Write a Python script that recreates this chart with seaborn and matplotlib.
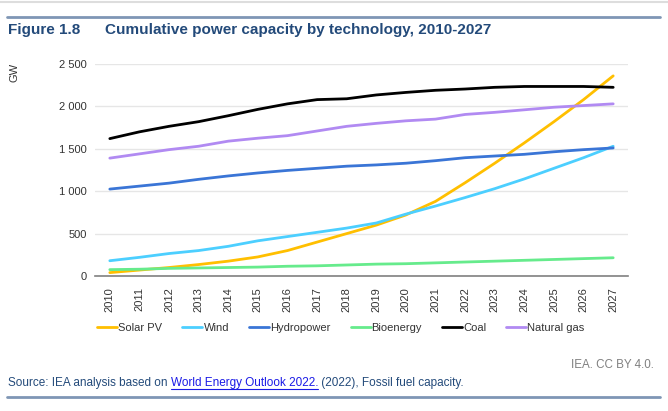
import matplotlib
matplotlib.use("Agg")
import matplotlib.pyplot as plt
import seaborn as sns
import pandas as pd
from matplotlib.lines import Line2D

years = list(range(2010, 2028))
solar = [40, 70, 100, 135, 175, 225, 300, 400, 500, 600, 720, 880, 1100, 1330, 1570, 1820, 2080, 2360]
wind = [180, 220, 265, 300, 350, 415, 465, 515, 565, 625, 730, 825, 925, 1030, 1145, 1270, 1395, 1530]
hydro = [1025, 1060, 1095, 1140, 1180, 1215, 1245, 1270, 1295, 1310, 1330, 1360, 1395, 1415, 1435, 1465, 1490, 1510]
bio = [75, 80, 90, 95, 100, 105, 115, 120, 130, 140, 145, 155, 165, 175, 185, 195, 205, 215]
coal = [1620, 1700, 1765, 1820, 1890, 1965, 2030, 2080, 2090, 2135, 2165, 2190, 2205, 2225, 2235, 2235, 2235, 2225]
gas = [1390, 1440, 1490, 1530, 1590, 1625, 1655, 1710, 1765, 1800, 1830, 1850, 1905, 1930, 1960, 1990, 2010, 2030]

series_names = ["Solar PV", "Wind", "Hydropower", "Bioenergy", "Coal", "Natural gas"]
series_vals = [solar, wind, hydro, bio, coal, gas]
colors = ["#FFBF00", "#4CCFFF", "#3A75D6", "#66EB8C", "#000000", "#B18AF2"]
yticks = [0, 500, 1000, 1500, 2000, 2500]
ytick_labels = ["0", "500", "1 000", "1 500", "2 000", "2 500"]

rows = []
for name, vals in zip(series_names, series_vals):
    for i, (yr, v) in enumerate(zip(years, vals)):
        rows.append({"pos": i, "year": yr, "tech": name, "GW": v})
df = pd.DataFrame(rows)

sns.set_theme(style="white")
plt.rcParams["font.family"] = ["Liberation Sans", "DejaVu Sans"]

fig = plt.figure(figsize=(6.68, 4.11), dpi=100)
ax = fig.add_axes([95 / 668, 1 - 276 / 411, (628 - 95) / 668, (276 - 64) / 411])

palette = dict(zip(series_names, colors))
sns.lineplot(data=df, x="pos", y="GW", hue="tech", hue_order=series_names,
             palette=palette, linewidth=2.0, ax=ax, legend=False)

ax.set_xlim(-0.5, 17.5)
ax.set_ylim(0, 2500)
ax.set_yticks(yticks)
ax.set_yticklabels(ytick_labels)
ax.set_xticks(range(len(years)))
ax.set_xticklabels([str(y) for y in years], rotation=90)
ax.tick_params(axis="both", labelsize=8, colors="#333333", length=0, pad=6)
ax.tick_params(axis="x", pad=8)
ax.yaxis.grid(True, color="#E6E6E6", linewidth=1)
ax.set_axisbelow(True)
for s in ["top", "right", "left"]:
    ax.spines[s].set_visible(False)
ax.spines["bottom"].set_color("#808080")
ax.spines["bottom"].set_linewidth(1.2)
ax.set_xlabel("")
ax.set_ylabel("")

fig.text(15 / 668, 1 - 72 / 411, "GW", rotation=90, fontsize=8, color="#333333",
         ha="center", va="center")

# legend
handles = [Line2D([0], [0], color=c, lw=2) for c in colors]
fig.legend(handles, series_names, loc="center", bbox_to_anchor=(341 / 668, 1 - 328 / 411),
           ncol=6, frameon=False, fontsize=8, handlelength=1.8, handletextpad=0.1,
           columnspacing=1.8, labelcolor="#333333")

# header lines and title
fig.add_artist(Line2D([0, 1], [1 - 2 / 411, 1 - 2 / 411], color="#DDDDDD", lw=1.5, transform=fig.transFigure))
fig.add_artist(Line2D([7 / 668, 660 / 668], [1 - 17 / 411, 1 - 17 / 411], color="#7F96B5", lw=2, transform=fig.transFigure))
fig.text(8 / 668, 1 - 30 / 411, "Figure 1.8", fontsize=11, fontweight="bold", color="#234A7A", va="center")
fig.text(105 / 668, 1 - 30 / 411, "Cumulative power capacity by technology, 2010-2027", fontsize=11,
         fontweight="bold", color="#234A7A", va="center")

fig.text(654 / 668, 1 - 365 / 411, "IEA. CC BY 4.0.", fontsize=8.4, color="#808080", ha="right", va="center")

# source line with link
fig.canvas.draw()
renderer = fig.canvas.get_renderer()
x = 8 / 668
yline = 1 - 383 / 411
parts = [("Source: IEA analysis based on ", "#234A7A", False),
         ("World Energy Outlook 2022.", "#1A1AE6", True),
         (" (2022), Fossil fuel capacity.", "#234A7A", False)]
for txt, col, und in parts:
    t = fig.text(x, yline, txt, fontsize=8.5, color=col, va="center", ha="left")
    bb = t.get_window_extent(renderer=renderer)
    w = bb.width / fig.bbox.width
    if und:
        yb = bb.y0 / fig.bbox.height
        fig.add_artist(Line2D([x, x + w], [yb, yb], color=col, lw=0.8, transform=fig.transFigure))
    x += w

fig.add_artist(Line2D([7 / 668, 660 / 668], [1 - 397 / 411, 1 - 397 / 411], color="#7F96B5", lw=2, transform=fig.transFigure))

fig.savefig("out.png", dpi=100)
